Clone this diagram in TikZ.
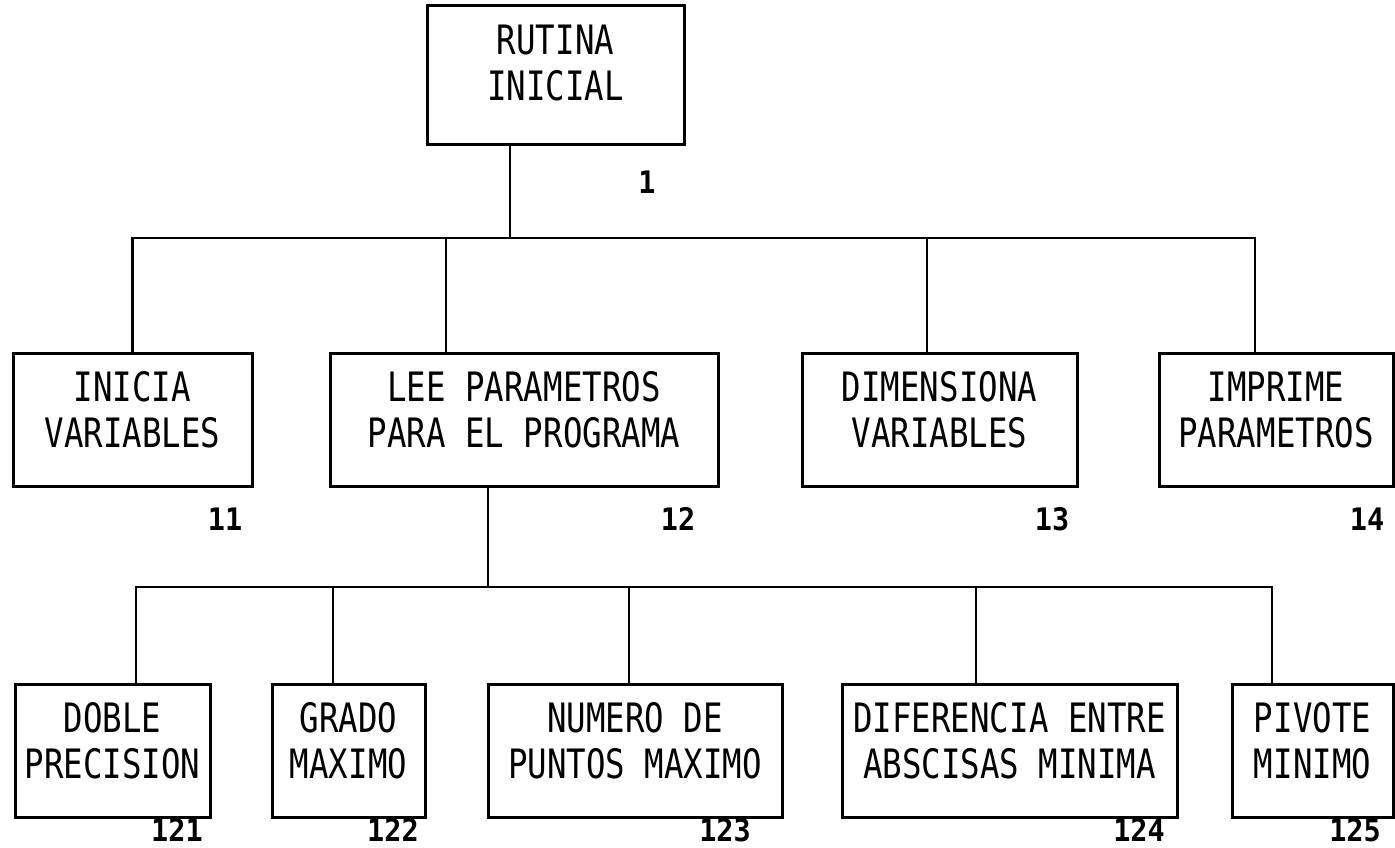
\documentclass[tikz,border=0pt]{standalone}
\usepackage{fontspec}
\newfontfamily\boxfont[FakeStretch=0.8]{DejaVu Sans Mono}
\newfontfamily\tagfont[FakeStretch=0.92]{DejaVu Sans Mono}

\begin{document}
\begin{tikzpicture}[x=1pt, y=-1pt,
    box/.style={draw, line width=3pt, inner sep=4pt, align=center, minimum height=133pt, text depth=20pt, font=\boxfont\fontsize{40.5}{46}\selectfont},
    wire/.style={line width=2.4pt},
    tag/.style={inner sep=1pt, font=\tagfont\bfseries\fontsize{31}{31}\selectfont}]
    \useasboundingbox[fill=white] (0,0) rectangle (1395,848);

    \node (rutina) at (555.5,75.5) [box, minimum width=257pt, minimum height=139pt, text depth=26pt] {RUTINA\\INICIAL};

    \node (inicia) at (132.5,419.5) [box, minimum width=239pt] {INICIA\\VARIABLES};
    \node (lee) at (524,419.5) [box, minimum width=388pt] {LEE PARAMETROS\\PARA EL PROGRAMA};
    \node (dimen) at (939.5,419.5) [box, minimum width=275pt] {DIMENSIONA\\VARIABLES};
    \node (imprime) at (1276,419.5) [box, minimum width=234pt] {IMPRIME\\PARAMETROS};

    \node (doble) at (112.5,750.5) [box, minimum width=195pt] {DOBLE\\PRECISION};
    \node (grado) at (348.5,750.5) [box, minimum width=153pt] {GRADO\\MAXIMO};
    \node (numero) at (635,750.5) [box, minimum width=294pt] {NUMERO DE\\PUNTOS MAXIMO};
    \node (difer) at (1009.5,750.5) [box, minimum width=335pt] {DIFERENCIA ENTRE\\ABSCISAS MINIMA};
    \node (pivote) at (1312.5,750.5) [box, minimum width=161pt] {PIVOTE\\MINIMO};

    \node (n1) at (647,182) [tag] {1};
    \node (n11) at (225,519) [tag] {11};
    \node (n12) at (678,519) [tag] {12};
    \node (n13) at (1052,519) [tag] {13};
    \node (n14) at (1367,519) [tag] {14};
    \node (n121) at (177,830) [tag] {121};
    \node (n122) at (393,830) [tag] {122};
    \node (n123) at (725,830) [tag] {123};
    \node (n124) at (1139,830) [tag] {124};
    \node (n125) at (1355,830) [tag] {125};

    \coordinate (busA) at (510,238);
    \coordinate (busB) at (488,587);

    \draw [wire] (rutina.south -| busA) -- (busA);
    \draw [wire] (inicia.north) |- (busA);
    \draw [wire] (busA) -| ([xshift=-21pt]imprime.north);
    \draw [wire] ([xshift=-78pt]lee.north) -- ([xshift=-78pt]lee.north |- busA);
    \draw [wire] ([xshift=-12.5pt]dimen.north) -- ([xshift=-12.5pt]dimen.north |- busA);

    \draw [wire] (lee.south -| busB) -- (busB);
    \draw [wire] ([xshift=23.5pt]doble.north) |- (busB);
    \draw [wire] (busB) -| ([xshift=-40.5pt]pivote.north);
    \draw [wire] ([xshift=-15.5pt]grado.north) -- ([xshift=-15.5pt]grado.north |- busB);
    \draw [wire] ([xshift=-6pt]numero.north) -- ([xshift=-6pt]numero.north |- busB);
    \draw [wire] ([xshift=-33.5pt]difer.north) -- ([xshift=-33.5pt]difer.north |- busB);
\end{tikzpicture}
\end{document}
